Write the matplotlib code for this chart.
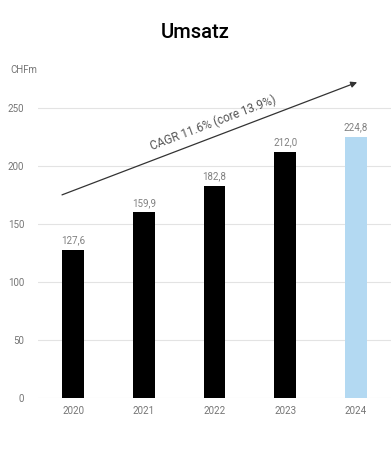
import matplotlib
matplotlib.use("Agg")
import matplotlib.pyplot as plt

years = ["2020", "2021", "2022", "2023", "2024"]
values = [127.6, 159.9, 182.8, 212.0, 224.8]
labels = ["127,6", "159,9", "182,8", "212,0", "224,8"]
colors = ["#000000", "#000000", "#000000", "#000000", "#b3d9f2"]
yticks = [0, 50, 100, 150, 200, 250]
cagr_text = "CAGR 11.6% (core 13.9%)"

plt.rcParams['font.family'] = ['Roboto', 'DejaVu Sans']

fig = plt.figure(figsize=(3.91, 4.55), dpi=100)
ax = fig.add_axes([38/391, 1 - 398/455, 1 - 38/391, (398 - 73)/455])

x = list(range(len(years)))
ax.bar(x, values, width=0.31, color=colors, zorder=3)
for xi, v, lab in zip(x, values, labels):
    ax.text(xi, v + 4, lab, ha='center', va='bottom', fontsize=7,
            color='#808080')

ax.set_xlim(-0.5, 4.5)
ax.set_ylim(0, 280)
ax.set_yticks(yticks)
ax.set_xticks(x)
ax.set_xticklabels(years)
ax.tick_params(axis='both', length=0, labelsize=7, labelcolor='#757575')
ax.tick_params(axis='y', pad=10)
ax.tick_params(axis='x', pad=6)
ax.grid(axis='y', color='#e3e3e3', linewidth=0.8, zorder=0)
for s in ax.spines.values():
    s.set_visible(False)

ax.annotate('', xy=(4.02, 272), xytext=(-0.16, 175),
            arrowprops=dict(arrowstyle='-|>', color='#333333', lw=0.9,
                            mutation_scale=9, shrinkA=0, shrinkB=0), zorder=4)
ax.text(1.98, 237, cagr_text, rotation=20.8, ha='center', va='center',
        fontsize=8.5, color='#555555', rotation_mode='anchor')

fig.text(10/391, 1 - 70/455, "CHFm", fontsize=7, color='#757575', va='center',
         ha='left')
fig.text(0.5, 1 - 33/455, "Umsatz", fontsize=14.5, fontweight='medium', ha='center', va='center')

fig.savefig("out.png", dpi=100)
